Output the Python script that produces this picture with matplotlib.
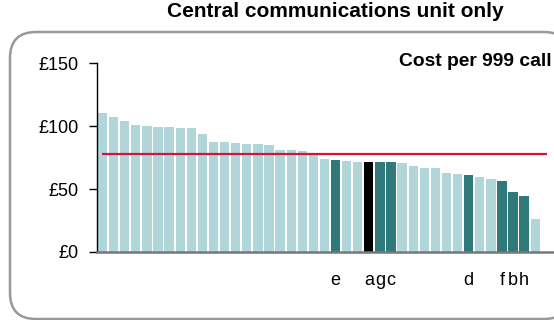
import matplotlib
matplotlib.use("Agg")
import matplotlib.pyplot as plt
import matplotlib.patches as mpatches
import numpy as np

plt.rcParams["font.family"] = ["Liberation Sans", "DejaVu Sans"]

# cost per 999 call, sorted high to low
costs = [110.4, 107.2, 103.9, 100.8, 100.2, 99.7, 99.2, 98.7, 98.4, 94.1,
         87.8, 87.5, 86.7, 85.9, 85.7, 85.4, 81.1, 80.9, 80.3, 77.1,
         74.0, 73.2, 72.4, 71.6, 71.6, 71.4, 71.4, 70.8, 68.5, 66.8,
         66.8, 62.8, 61.8, 61.3, 59.7, 58.1, 56.5, 48.0, 44.8, 26.2]
# highlighted forces: label per bar ("" = not highlighted)
labels = [""] * 21 + ["e", "", "", "a", "g", "c", "", "", "", "",
                      "", "", "d", "", "", "f", "b", "h", ""]
highlight_main = "a"
average = 78.0
yticks = [0, 50, 100, 150]
ytick_labels = ["£0", "£50", "£100", "£150"]

light = "#b0d6d9"
dark = "#30797a"

fig = plt.figure(figsize=(5.54, 3.2), dpi=100)

# rounded frame drawn in pixel units on a background axes
bg = fig.add_axes([0, 0, 1, 1], zorder=0)
bg.set_xlim(0, 554)
bg.set_ylim(320, 0)
bg.axis("off")
frame = mpatches.FancyBboxPatch((10, 32), 560, 287,
                                boxstyle="round,pad=0,rounding_size=26",
                                facecolor="white", edgecolor="#999999",
                                linewidth=1.8)
bg.add_patch(frame)

ax = fig.add_axes([97 / 554, 1 - 252 / 320, 456 / 554, 188.7 / 320], zorder=1)
ax.patch.set_alpha(0)

x = np.arange(len(costs))
colors = []
for lab in labels:
    if lab == highlight_main:
        colors.append("black")
    elif lab:
        colors.append(dark)
    else:
        colors.append(light)
ax.bar(x, costs, width=0.84, color=colors, edgecolor="none", zorder=2)
ax.hlines(average, -0.05, 40.1, color="#d2143a", linewidth=1.6, zorder=3)

for xi, lab in zip(x, labels):
    if lab:
        ax.text(xi, -26.5, lab, ha="center", va="baseline", fontsize=13)

ax.set_xlim(-0.5, 40.6)
ax.set_ylim(0, 150)
ax.set_yticks(yticks)
ax.set_yticklabels(ytick_labels, fontsize=13)
ax.tick_params(axis="y", length=6, width=1, pad=7, color="black")
ax.set_xticks([])
for side in ["top", "right"]:
    ax.spines[side].set_visible(False)
ax.spines["left"].set_color("black")
ax.spines["left"].set_linewidth(1)
ax.spines["bottom"].set_color("#777777")
ax.spines["bottom"].set_linewidth(1.8)

fig.text(335.5 / 554, 1 - 17 / 320, "Central communications unit only",
         ha="center", va="baseline", fontsize=15, fontweight="bold")
fig.text(399 / 554, 1 - 65.5 / 320, "Cost per 999 call",
         ha="left", va="baseline", fontsize=13.9, fontweight="bold")

fig.savefig("out.png", dpi=100)
